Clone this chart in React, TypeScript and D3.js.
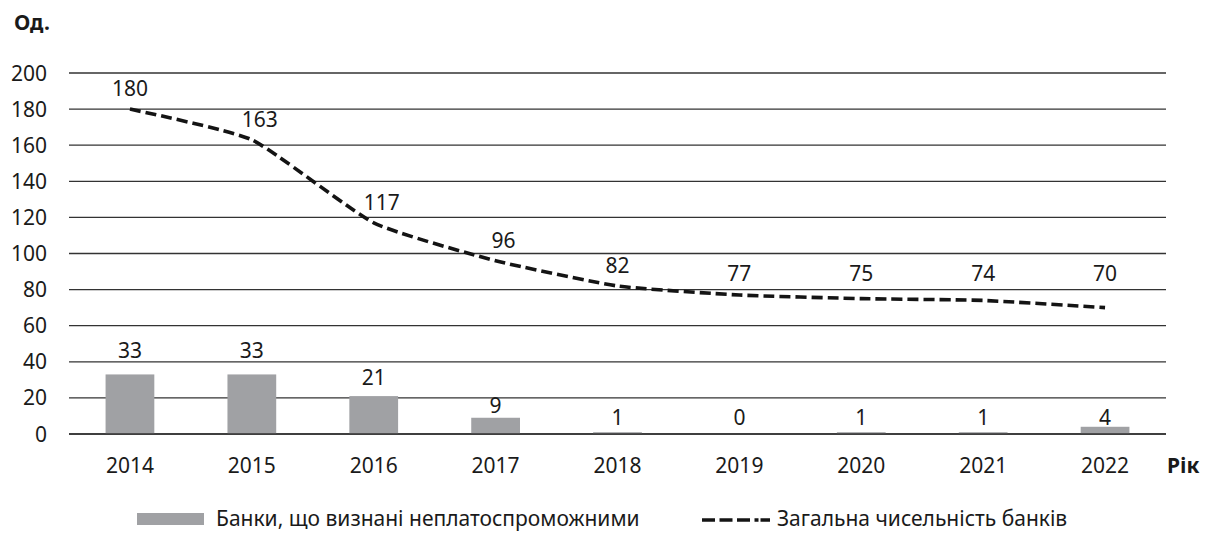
import * as d3 from "d3";
import React, { useEffect, useRef } from "react";

const years = ["2014", "2015", "2016", "2017", "2018", "2019", "2020", "2021", "2022"];
const insolvent = [33, 33, 21, 9, 1, 0, 1, 1, 4];
const totalBanks = [180, 163, 117, 96, 82, 77, 75, 74, 70];
const yTicks = [0, 20, 40, 60, 80, 100, 120, 140, 160, 180, 200];

const barLabel = "Банки, що визнані неплатоспроможними";
const lineLabel = "Загальна чисельність банків";

function App() {
  const ref = useRef<SVGSVGElement>(null);

  const width = 1210;
  const height = 533;
  const margin = { top: 73, right: 44, bottom: 99, left: 69 };
  const font = "'Noto Sans', sans-serif";
  const fs = 21;
  const ink = "#1a1a1a";

  useEffect(() => {
    const svg = d3.select(ref.current);
    svg.selectAll("*").remove();

    const x = d3
      .scaleBand()
      .domain(years)
      .range([margin.left, width - margin.right])
      .paddingInner(0.6)
      .paddingOuter(0.3);
    const y = d3.scaleLinear().domain([0, 200]).range([height - margin.bottom, margin.top]);
    const cx = (d: string) => (x(d) as number) + x.bandwidth() / 2;

    // grid
    svg
      .append("g")
      .selectAll("line")
      .data(yTicks)
      .enter()
      .append("line")
      .attr("x1", margin.left)
      .attr("x2", width - margin.right)
      .attr("y1", (d) => y(d))
      .attr("y2", (d) => y(d))
      .attr("stroke", "#333")
      .attr("stroke-width", 1.3);

    svg
      .append("g")
      .selectAll("text")
      .data(yTicks)
      .enter()
      .append("text")
      .attr("x", 47)
      .attr("y", (d) => y(d))
      .attr("dy", "0.36em")
      .attr("text-anchor", "end")
      .attr("font-family", font)
      .attr("font-size", fs)
      .attr("fill", ink)
      .text((d) => d);

    // bars
    svg
      .append("g")
      .selectAll("rect")
      .data(insolvent)
      .enter()
      .append("rect")
      .attr("x", (d, i) => x(years[i]) as number)
      .attr("width", x.bandwidth())
      .attr("y", (d) => y(d))
      .attr("height", (d) => y(0) - y(d))
      .attr("fill", "#a0a1a4");

    svg
      .append("line")
      .attr("x1", margin.left)
      .attr("x2", width - margin.right)
      .attr("y1", y(0))
      .attr("y2", y(0))
      .attr("stroke", "#333")
      .attr("stroke-width", 1.3);

    svg
      .append("g")
      .selectAll("text")
      .data(insolvent)
      .enter()
      .append("text")
      .attr("x", (d, i) => cx(years[i]))
      .attr("y", (d) => Math.min(y(d * 1.28), y(0) - 9))
      .attr("text-anchor", "middle")
      .attr("font-family", font)
      .attr("font-size", fs)
      .attr("fill", ink)
      .text((d) => d);

    // line
    const line = d3
      .line<number>()
      .x((d, i) => cx(years[i]))
      .y((d) => y(d))
      .curve(d3.curveCardinal.tension(0.5));

    svg
      .append("path")
      .datum(totalBanks)
      .attr("d", line)
      .attr("fill", "none")
      .attr("stroke", "#141414")
      .attr("stroke-width", 3.6)
      .attr("stroke-dasharray", "11,5");

    // labels sit a little right where the line drops steeply into the point
    svg
      .append("g")
      .selectAll("text")
      .data(totalBanks)
      .enter()
      .append("text")
      .attr("x", (d, i) => cx(years[i]) + (i > 0 && totalBanks[i - 1] - d > 15 ? 8 : 0))
      .attr("y", (d) => Math.min(y(d) - 13, y(85)))
      .attr("text-anchor", "middle")
      .attr("font-family", font)
      .attr("font-size", fs)
      .attr("fill", ink)
      .text((d) => d);

    // x labels
    svg
      .append("g")
      .selectAll("text")
      .data(years)
      .enter()
      .append("text")
      .attr("x", (d) => cx(d))
      .attr("y", 473)
      .attr("text-anchor", "middle")
      .attr("font-family", font)
      .attr("font-size", fs)
      .attr("fill", ink)
      .text((d) => d);

    svg
      .append("text")
      .attr("x", 1167)
      .attr("y", 473)
      .attr("font-family", font)
      .attr("font-size", fs)
      .attr("font-weight", "bold")
      .attr("fill", ink)
      .text("Рік");

    svg
      .append("text")
      .attr("x", 14)
      .attr("y", 30)
      .attr("font-family", font)
      .attr("font-size", fs)
      .attr("font-weight", "bold")
      .attr("fill", ink)
      .text("Од.");

    // legend
    svg
      .append("rect")
      .attr("x", 137)
      .attr("y", 513)
      .attr("width", 67)
      .attr("height", 12)
      .attr("fill", "#a0a1a4");
    svg
      .append("text")
      .attr("x", 216)
      .attr("y", 526)
      .attr("font-family", font)
      .attr("font-size", fs)
      .attr("fill", ink)
      .text(barLabel);

    svg
      .append("line")
      .attr("x1", 702)
      .attr("x2", 770)
      .attr("y1", 520)
      .attr("y2", 520)
      .attr("stroke", "#141414")
      .attr("stroke-width", 3.6)
      .attr("stroke-dasharray", "13,4.5,13,4.5,13,4.5,4,2");
    svg
      .append("text")
      .attr("x", 777)
      .attr("y", 526)
      .attr("font-family", font)
      .attr("font-size", fs)
      .attr("fill", ink)
      .text(lineLabel);
  }, []);

  return (
    <svg
      ref={ref}
      width={width}
      height={height}
      style={{ position: "absolute", left: 0, top: 0, background: "#fff" }}
    />
  );
}

export default App;
